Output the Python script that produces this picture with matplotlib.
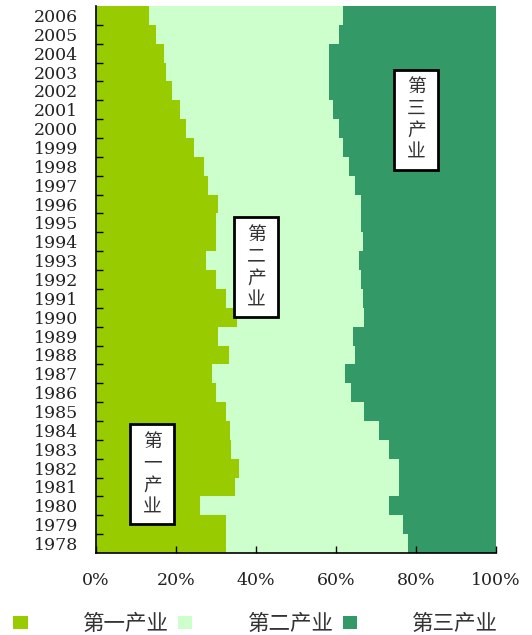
import matplotlib
matplotlib.use("Agg")
import matplotlib.pyplot as plt
from matplotlib.patches import Rectangle
import numpy as np

years = [str(y) for y in range(1978, 2007)]
# shares in percent, 1978 .. 2006
primary = [32.5, 32.5, 26.1, 34.7, 35.7, 33.75, 33.5, 32.5, 30.0, 29.1,
           33.25, 30.5, 35.2, 32.5, 30.0, 27.6, 30.0, 30.0, 30.5, 28.1,
           27.1, 24.4, 22.4, 20.9, 19.0, 17.5, 17.0, 15.1, 13.25]
sec_edge = [77.9, 76.7, 73.25, 75.75, 75.75, 73.25, 70.8, 67.1, 63.7, 62.25,
            64.7, 64.2, 67.1, 66.7, 66.2, 65.7, 66.7, 66.2, 66.2, 64.7,
            63.2, 61.75, 60.75, 59.25, 58.25, 58.25, 58.25, 60.75, 61.75]
secondary = [round(s - p, 2) for s, p in zip(sec_edge, primary)]
tertiary = [round(100 - s, 2) for s in sec_edge]
series_names = ["第一产业", "第二产业", "第三产业"]
colors = ["#99CC00", "#CCFFCC", "#339966"]
xticks = [0, 20, 40, 60, 80, 100]
xtick_labels = ["0%", "20%", "40%", "60%", "80%", "100%"]

W, H = 532, 635
fig = plt.figure(figsize=(W / 100, H / 100), dpi=100)
ax = fig.add_axes([96 / W, (H - 553) / H, 400 / W, 547 / H])

y = np.arange(len(years))
left = np.zeros(len(years))
for vals, name, c in zip([primary, secondary, tertiary], series_names, colors):
    ax.barh(y, vals, left=left, height=1.0, color=c, label=name, linewidth=0)
    left = left + np.array(vals)

ax.set_xlim(0, 100)
ax.set_ylim(-0.5, len(years) - 0.5)
for s in ["top", "right"]:
    ax.spines[s].set_visible(False)
for s in ["left", "bottom"]:
    ax.spines[s].set_color("black")
    ax.spines[s].set_linewidth(1.2)

numfont = dict(family="DejaVu Serif", size=12.5)
ax.set_yticks(y)
ax.set_yticklabels(years, **numfont, color="#222222")
ax.set_yticks(np.arange(len(years) - 1) + 0.5, minor=True)
ax.tick_params(axis="y", which="major", length=0, pad=13)
ax.tick_params(axis="y", which="minor", direction="in", length=5, width=1, color="black")
ax.set_xticks(xticks)
ax.set_xticklabels(xtick_labels, **numfont, color="#222222")
ax.tick_params(axis="x", which="major", direction="in", length=5, width=1, pad=14, color="black")

cjk = ["Noto Sans CJK SC", "DejaVu Sans"]
boxes = [("第\n一\n产\n业", 14.1, 3.69), ("第\n二\n产\n业", 40.1, 14.66), ("第\n三\n产\n业", 80.1, 22.48)]
bw, bh = 11.0, 5.3
for txt, cx, cy in boxes:
    ax.add_patch(Rectangle((cx - bw / 2, cy - bh / 2), bw, bh, facecolor="white",
                           edgecolor="black", linewidth=2, zorder=5))
    ax.text(cx, cy, txt, ha="center", va="center", family=cjk, fontsize=13.5,
            color="#333333", linespacing=1.05, zorder=6)

leg = fig.legend(loc="center left", bbox_to_anchor=(13 / W, (H - 624) / H),
                 bbox_transform=fig.transFigure, ncol=3, frameon=False,
                 prop={"family": cjk, "size": 15.5}, handlelength=0.68, handleheight=0.55,
                 handletextpad=2.56, columnspacing=0.42, borderpad=0, borderaxespad=0)
for t in leg.get_texts():
    t.set_color("#333333")

fig.savefig("out.png", dpi=100)
